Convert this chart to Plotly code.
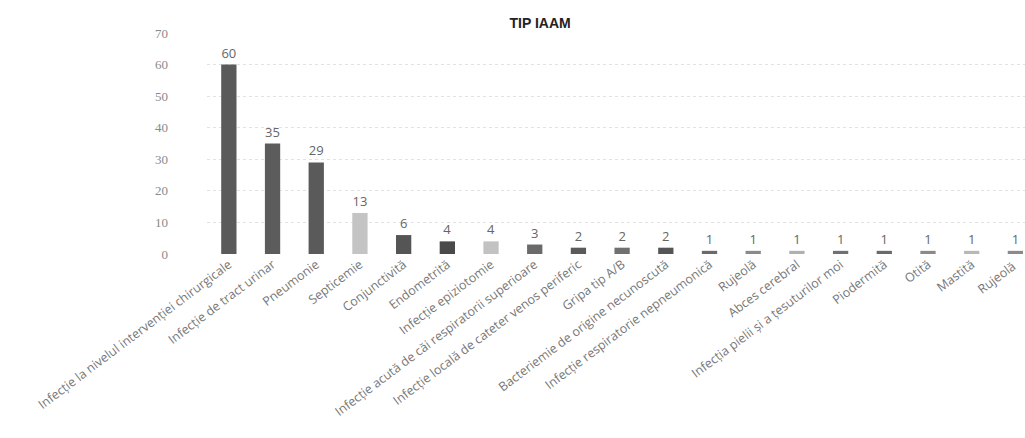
import plotly.graph_objects as go

categories = [
    "Infecție la nivelul intervenției chirurgicale",
    "Infecție de tract urinar",
    "Pneumonie",
    "Septicemie",
    "Conjunctivită",
    "Endometrită",
    "Infecție epiziotomie",
    "Infecție acută de căi respiratorii superioare",
    "Infecție locală de cateter venos periferic",
    "Gripa tip A/B",
    "Bacteriemie de origine necunoscută",
    "Infecție respiratorie nepneumonică",
    "Rujeolă",
    "Abces cerebral",
    "Infecția pielii și a țesuturilor moi",
    "Piodermită",
    "Otită",
    "Mastită",
    "Rujeolă ",
]
values = [60, 35, 29, 13, 6, 4, 4, 3, 2, 2, 2, 1, 1, 1, 1, 1, 1, 1, 1]
bar_colors = [
    "#5a5a5a", "#5c5c5c", "#5a5a5a", "#c4c4c4", "#555555", "#4a4a4a",
    "#c2c2c2", "#6a6a6a", "#5a5a5a", "#707070", "#555555", "#6a6a6a",
    "#8a8a8a", "#b0b0b0", "#707070", "#6a6a6a", "#8a8a8a", "#b8b8b8", "#8a8a8a",
]
y_ticks = [0, 10, 20, 30, 40, 50, 60, 70]

x = list(range(len(categories)))

fig = go.Figure(
    go.Bar(
        x=x,
        y=values,
        width=0.35,
        marker=dict(color=bar_colors, line=dict(width=0)),
        text=[str(v) for v in values],
        textposition="outside",
        cliponaxis=False,
        textfont=dict(family="Open Sans", size=13, color="#666666"),
    )
)

fig.update_layout(
    width=1025,
    height=438,
    paper_bgcolor="white",
    plot_bgcolor="white",
    margin=dict(l=207, r=0, t=33, b=184),
    showlegend=False,
    title=dict(
        text="<b>TIP IAAM</b>",
        x=0.527,
        xanchor="center",
        y=0.947,
        yanchor="middle",
        font=dict(family="Liberation Sans", size=14, color="#222222"),
    ),
    xaxis=dict(
        range=[-0.5, 18.22],
        tickmode="array",
        tickvals=x,
        ticktext=categories,
        tickangle=-37,
        tickfont=dict(family="Open Sans", size=12.5, color="#777777"),
        showgrid=False,
        showline=False,
        zeroline=False,
        ticks="",
    ),
    yaxis=dict(
        range=[0, 70],
        tickmode="array",
        tickvals=y_ticks,
        tickfont=dict(family="Liberation Serif", size=13, color="#8a8a8a"),
        ticklabelstandoff=38,
        showgrid=True,
        gridcolor="#e2e2e2",
        griddash="dot",
        gridwidth=1,
        zeroline=False,
        showline=False,
    ),
)

fig.write_html("out.html")
